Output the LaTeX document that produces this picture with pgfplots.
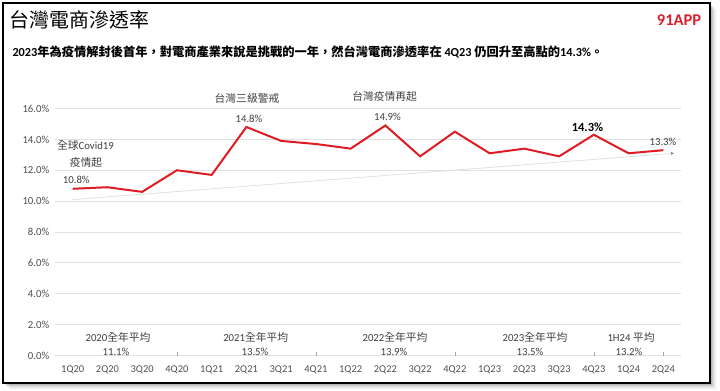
\documentclass[border=0pt]{standalone}
\usepackage{fontspec}
\usepackage{pgfplots}
\pgfplotsset{compat=1.18}
\usetikzlibrary{arrows.meta}
\setmainfont{Carlito}
\newfontfamily\cjk{Noto Sans CJK TC}
\definecolor{linered}{RGB}{222,28,36}
\definecolor{logored}{RGB}{218,32,44}
\definecolor{txt}{RGB}{64,64,64}
\definecolor{tick}{RGB}{80,80,80}
\begin{document}
\begin{tikzpicture}
\begin{scope}[x=1bp,y=1bp]
\useasboundingbox (0,0) rectangle (720,390);
\foreach \i/\op in {1/0.10,2/0.09,3/0.08,4/0.06,5/0.04,6/0.03,7/0.02} {
  \fill[black,opacity=\op] (3+\i,7-\i) rectangle (710+\i,387-\i);
}
\fill[white] (3,7) rectangle (710,387);
\draw[line width=2.2bp] (3,7) rectangle (710,387);
\node[anchor=west,font=\cjk\fontsize{20}{24}\selectfont] at (6,370) {台灣電商滲透率};
\node[font=\bfseries\fontsize{16.5}{18}\selectfont, text=logored] at (679,370) {91APP};
\node[anchor=west, font=\bfseries\fontsize{12.3}{14}\selectfont] at (9,338) {2023{\cjk 年為疫情解封後首年，對電商產業來說是挑戰的一年，然台灣電商滲透率在} 4Q23 {\cjk 仍回升至高點的}14.3\%{\cjk 。}};
\end{scope}
\begin{axis}[
  at={(55.3bp,34.5bp)}, anchor=south west, scale only axis,
  width=625.4bp, height=247bp,
  xmin=-0.5, xmax=17.5, ymin=0, ymax=16,
  axis x line*=bottom, axis y line*=left,
  axis line style={draw=none},
  ytick={0,2,...,16},
  yticklabel={\pgfmathprintnumber[fixed,fixed zerofill,precision=1]{\tick}\%},
  /pgf/number format/assume math mode=true,
  yticklabel style={font=\fontsize{10.8}{12}\selectfont, text=tick, xshift=-2.5bp},
  xtick={0,...,17},
  xticklabels={1Q20,2Q20,3Q20,4Q20,1Q21,2Q21,3Q21,4Q21,1Q22,2Q22,3Q22,4Q22,1Q23,2Q23,3Q23,4Q23,1Q24,2Q24},
  xticklabel style={font=\fontsize{10.5}{12}\selectfont, text=tick, yshift=-7bp},
  ymajorgrids, grid style={draw=black!12, line width=0.8bp},
  xtick style={draw=none}, ytick style={draw=none},
  extra x ticks={3,7,11,15,17}, extra x tick labels={},
  extra x tick style={xtick style={draw=black!35, line width=0.6bp}, major tick length=4bp, tick align=inside},
  clip=false,
]
\addplot[black!12, line width=0.8bp, -{Stealth[length=3bp,width=3bp,color=black!55]}] coordinates {(0,10.1) (17.3,13.1)};
\addplot[linered, line width=2bp, no markers] coordinates {(0,10.8)(1,10.9)(2,10.6)(3,12.0)(4,11.7)(5,14.8)(6,13.9)(7,13.7)(8,13.4)(9,14.9)(10,12.9)(11,14.5)(12,13.1)(13,13.4)(14,12.9)(15,14.3)(16,13.1)(17,13.3)};
\end{axis}
\begin{scope}[x=1bp,y=1bp,every node/.style={text=txt, font=\fontsize{10.8}{12}\selectfont}]
\node at (85.5,245) {{\cjk 全球}Covid19};
\node at (86,228) {\cjk 疫情起};
\node at (76.3,210) {10.8\%};
\node at (247,292) {\cjk 台灣三級警戒};
\node at (249,271) {14.8\%};
\node at (384.7,293.3) {\cjk 台灣疫情再起};
\node at (387.5,272.7) {14.9\%};
\node[text=black, font=\bfseries\fontsize{12.5}{14}\selectfont] at (587.5,262.7) {14.3\%};
\node at (663,247.7) {13.3\%};
\node at (118,52.7) {2020{\cjk 全年平均}};
\node at (116,37.7) {11.1\%};
\node at (255.7,53) {2021{\cjk 全年平均}};
\node at (255,38) {13.5\%};
\node at (395,53) {2022{\cjk 全年平均}};
\node at (394,38) {13.9\%};
\node at (535,53) {2023{\cjk 全年平均}};
\node at (530,38) {13.5\%};
\node at (631,53) {1H24 {\cjk 平均}};
\node at (629,38) {13.2\%};
\end{scope}
\end{tikzpicture}
\end{document}
